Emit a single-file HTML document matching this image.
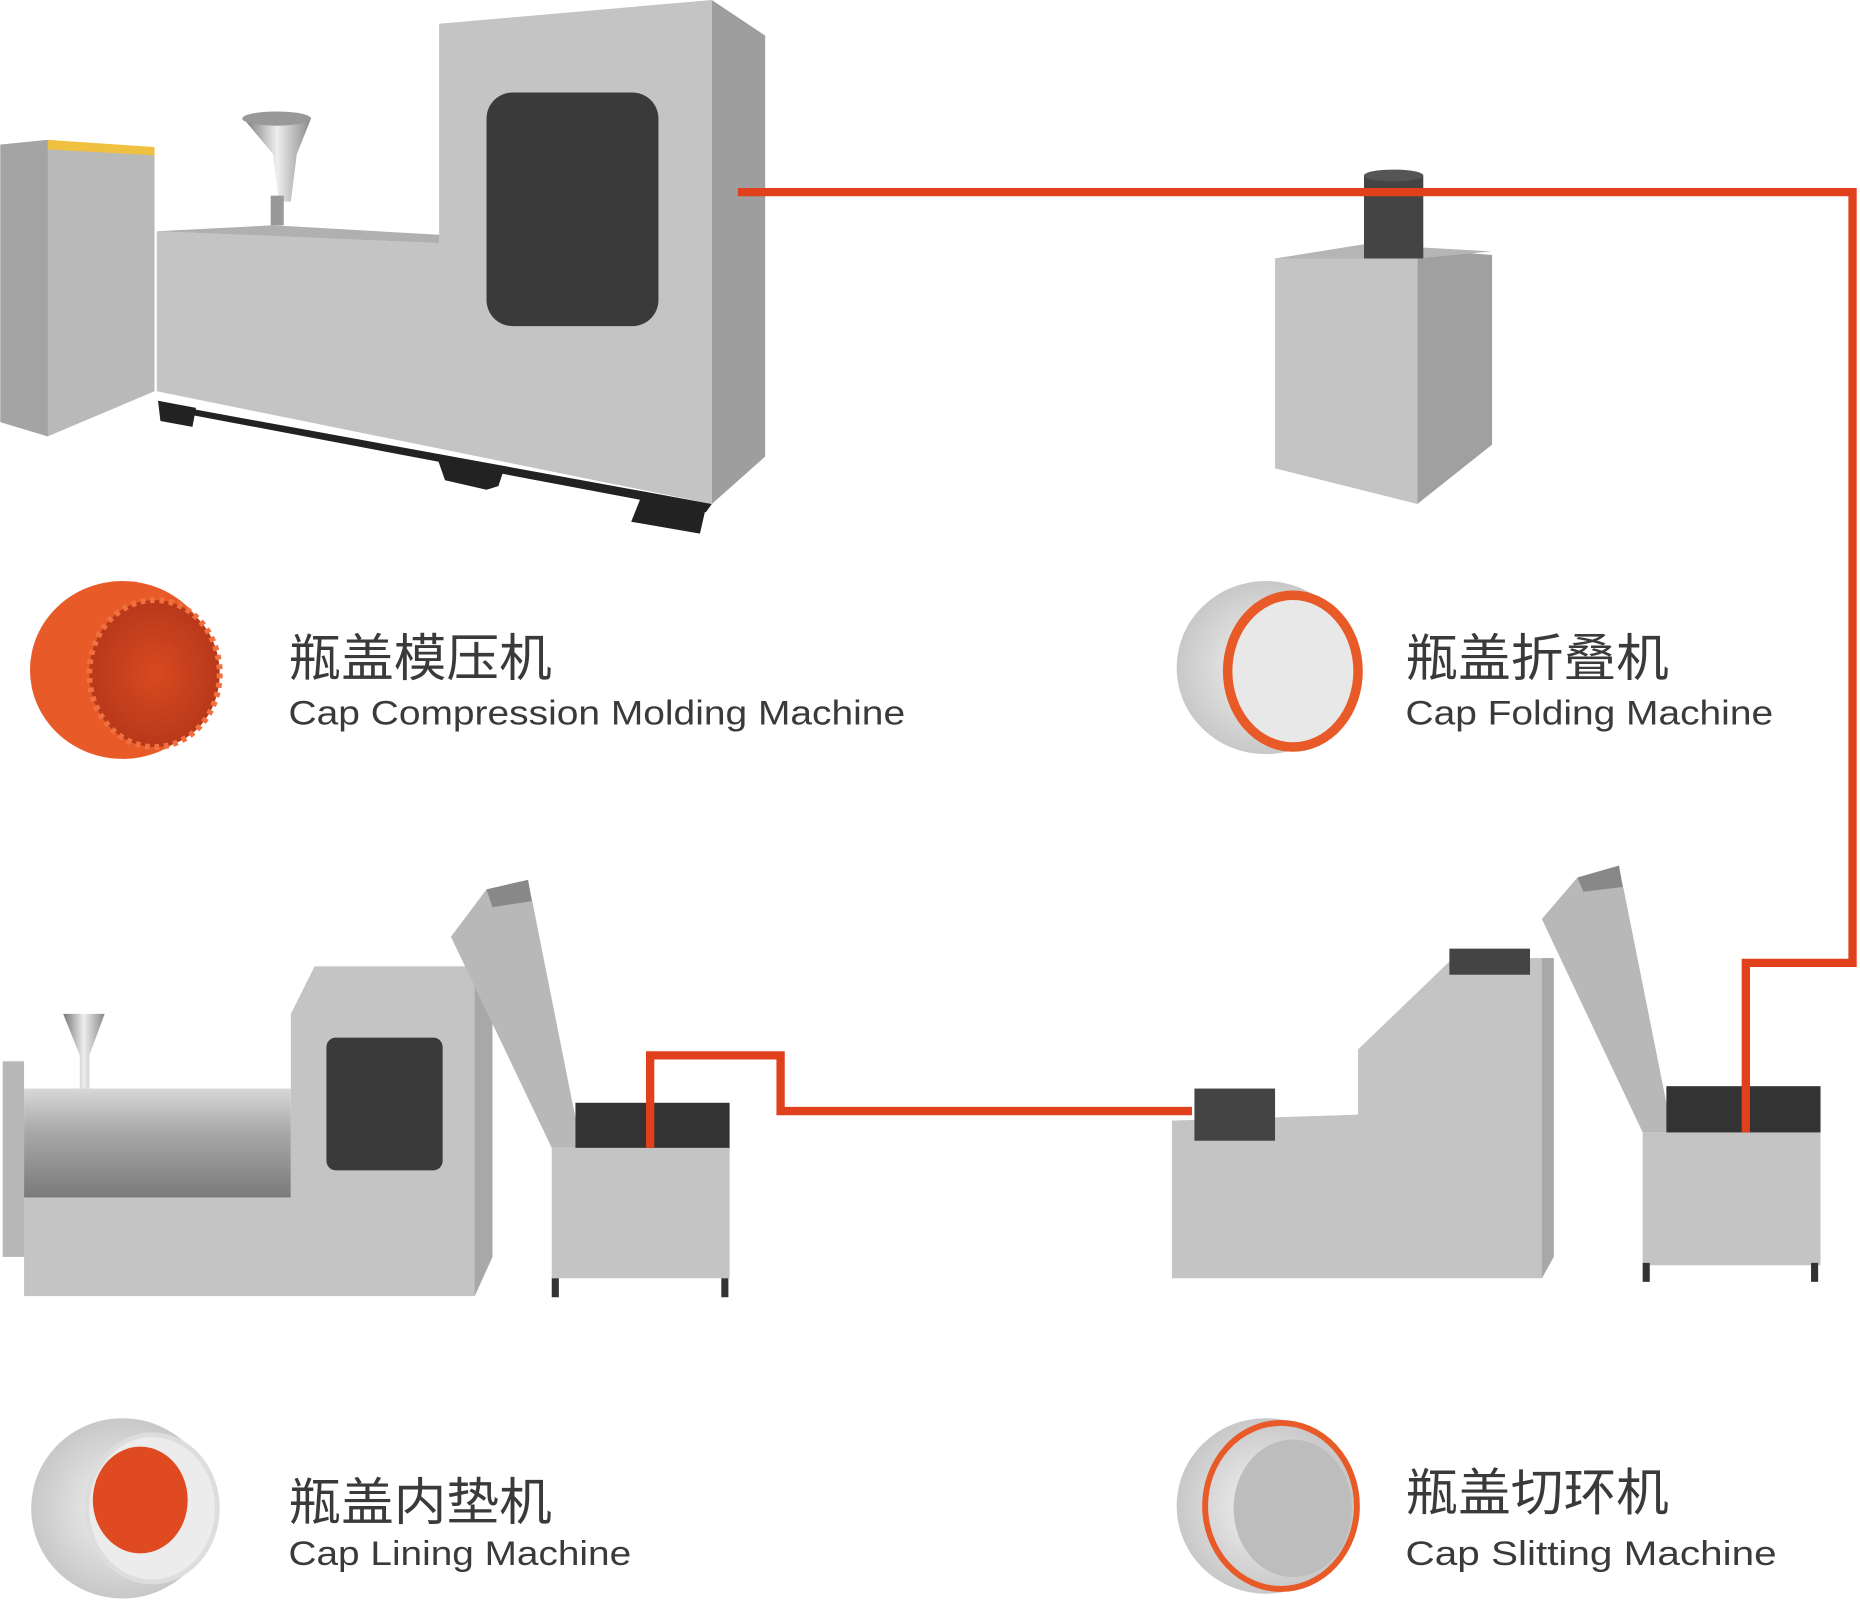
<!DOCTYPE html>
<html><head><meta charset="utf-8"><style>
html,body{margin:0;padding:0;background:#fff;}
svg{display:block;}
text{font-family:"Liberation Sans","Noto Sans CJK SC",sans-serif;fill:#3a3a3a;}
</style></head><body>
<svg width="1860" height="1602" viewBox="0 0 1568 1351" xmlns="http://www.w3.org/2000/svg">
<defs>
<linearGradient id="cyl" x1="0" y1="0" x2="0" y2="1"><stop offset="0" stop-color="#d8d8d8"/><stop offset="0.4" stop-color="#a8a8a8"/><stop offset="1" stop-color="#7a7a7a"/></linearGradient>
<linearGradient id="hop" x1="0" y1="0" x2="1" y2="0"><stop offset="0" stop-color="#777"/><stop offset="0.5" stop-color="#eee"/><stop offset="1" stop-color="#888"/></linearGradient>
<radialGradient id="org" cx="0.5" cy="0.5" r="0.5"><stop offset="0" stop-color="#d84a20"/><stop offset="1" stop-color="#b8381a"/></radialGradient>
<radialGradient id="wht" cx="0.5" cy="0.5" r="0.5"><stop offset="0" stop-color="#f4f4f4"/><stop offset="1" stop-color="#c8c8c8"/></radialGradient>
</defs>
<!-- Machine 1 -->
<polygon points="0,122 40,118 130,126 130,330 40,368 0,356" fill="#b9b9b9"/>
<polygon points="0,122 40,118 40,368 0,356" fill="#a4a4a4"/>
<polygon points="40,118 130,124 130,131 40,126" fill="#f0c040"/>
<polygon points="132,195 370,205 370,20 600,0 600,425 132,330" fill="#c4c4c4"/>
<polygon points="600,0 645,30 645,385 600,425" fill="#9e9e9e"/>
<polygon points="132,195 230,190 370,198 370,205" fill="#b0b0b0"/>
<rect x="410" y="78" width="145" height="197" rx="22" fill="#3a3a3a"/>
<polygon points="135,340 600,425 595,432 135,345" fill="#222"/>
<polygon points="133,338 165,344 162,360 135,355" fill="#222"/>
<polygon points="368,385 425,395 420,410 410,413 375,405" fill="#222"/>
<polygon points="540,420 595,428 590,450 532,440" fill="#222"/>
<polygon points="205,100 262,100 250,130 245,170 235,170 230,130" fill="url(#hop)"/>
<ellipse cx="233" cy="100" rx="29" ry="6" fill="#999"/>
<rect x="228" y="165" width="11" height="25" fill="#999"/>
<!-- Folding machine -->
<polygon points="1075,218 1195,210 1195,425 1075,395" fill="#c4c4c4"/>
<polygon points="1195,210 1258,215 1258,375 1195,425" fill="#a0a0a0"/>
<polygon points="1075,218 1150,206 1258,212 1195,218" fill="#b5b5b5"/>
<rect x="1150" y="148" width="50" height="70" fill="#444"/>
<ellipse cx="1175" cy="148" rx="25" ry="5" fill="#555"/>
<!-- Lining machine bottom-left -->
<rect x="2" y="895" width="18" height="165" fill="#b8b8b8"/>
<rect x="20" y="918" width="225" height="92" fill="url(#cyl)"/>
<polygon points="20,1010 245,1010 245,855 265,815 415,815 415,1060 400,1093 20,1093" fill="#c4c4c4"/>
<polygon points="400,815 415,815 415,1060 400,1093" fill="#a8a8a8"/>
<rect x="275" y="875" width="98" height="112" rx="8" fill="#3a3a3a"/>
<polygon points="53,855 88,855 75,890 75,918 67,918 67,890" fill="url(#hop)"/>
<polygon points="380,790 410,750 445,742 490,968 465,968" fill="#b8b8b8"/>
<polygon points="410,750 445,742 448,760 415,765" fill="#888"/>
<rect x="485" y="930" width="130" height="40" fill="#333"/>
<rect x="465" y="968" width="150" height="110" fill="#c4c4c4"/>
<rect x="465" y="1078" width="6" height="16" fill="#333"/><rect x="608" y="1078" width="6" height="16" fill="#333"/>
<!-- Slitting machine bottom-right -->
<polygon points="988,945 1145,940 1145,885 1225,808 1310,808 1310,1060 1300,1078 988,1078" fill="#c4c4c4"/>
<polygon points="1300,808 1310,808 1310,1060 1300,1078" fill="#a8a8a8"/>
<rect x="1007" y="918" width="68" height="44" fill="#444"/>
<rect x="1222" y="800" width="68" height="22" fill="#444"/>
<polygon points="1300,775 1330,740 1365,730 1410,955 1385,955" fill="#b8b8b8"/>
<polygon points="1330,740 1365,730 1368,748 1335,752" fill="#888"/>
<rect x="1405" y="916" width="130" height="40" fill="#333"/>
<rect x="1385" y="955" width="150" height="112" fill="#c4c4c4"/>
<rect x="1385" y="1065" width="6" height="16" fill="#333"/><rect x="1527" y="1065" width="6" height="16" fill="#333"/>
<!-- Red lines -->
<polyline points="622,162 1562,162 1562,812 1472,812 1472,955" fill="none" stroke="#e0401c" stroke-width="7"/>
<polyline points="1005,937 658,937 658,890 548,890 548,968" fill="none" stroke="#e0401c" stroke-width="7"/>
<!-- Caps -->
<ellipse cx="103" cy="565" rx="78" ry="75" fill="#e85a28"/>
<ellipse cx="130" cy="568" rx="55" ry="62" fill="url(#org)" stroke="#f07040" stroke-width="5" stroke-dasharray="4 4"/>
<ellipse cx="1067" cy="563" rx="75" ry="73" fill="url(#wht)"/>
<ellipse cx="1090" cy="566" rx="55" ry="64" fill="#e8e8e8" stroke="#e85a28" stroke-width="8"/>
<ellipse cx="103" cy="1272" rx="77" ry="76" fill="url(#wht)"/>
<ellipse cx="128" cy="1272" rx="55" ry="62" fill="#ececec" stroke="#ddd" stroke-width="4"/>
<ellipse cx="118" cy="1265" rx="40" ry="45" fill="#e04a20"/>
<ellipse cx="1067" cy="1270" rx="75" ry="74" fill="url(#wht)"/>
<ellipse cx="1080" cy="1270" rx="64" ry="70" fill="none" stroke="#e85a28" stroke-width="5"/>
<ellipse cx="1090" cy="1272" rx="50" ry="58" fill="#bdbdbd"/>
<!-- Labels -->
<text x="243" y="570" font-size="43" textLength="222" lengthAdjust="spacingAndGlyphs">瓶盖模压机</text>
<text x="243" y="611" font-size="29" textLength="520" lengthAdjust="spacingAndGlyphs">Cap Compression Molding Machine</text>
<text x="1185" y="570" font-size="43" textLength="222" lengthAdjust="spacingAndGlyphs">瓶盖折叠机</text>
<text x="1185" y="611" font-size="29" textLength="310" lengthAdjust="spacingAndGlyphs">Cap Folding Machine</text>
<text x="243" y="1282" font-size="43" textLength="222" lengthAdjust="spacingAndGlyphs">瓶盖内垫机</text>
<text x="243" y="1320" font-size="29" textLength="289" lengthAdjust="spacingAndGlyphs">Cap Lining Machine</text>
<text x="1185" y="1274" font-size="43" textLength="222" lengthAdjust="spacingAndGlyphs">瓶盖切环机</text>
<text x="1185" y="1320" font-size="29" textLength="313" lengthAdjust="spacingAndGlyphs">Cap  Slitting  Machine</text>
</svg>
</body></html>
